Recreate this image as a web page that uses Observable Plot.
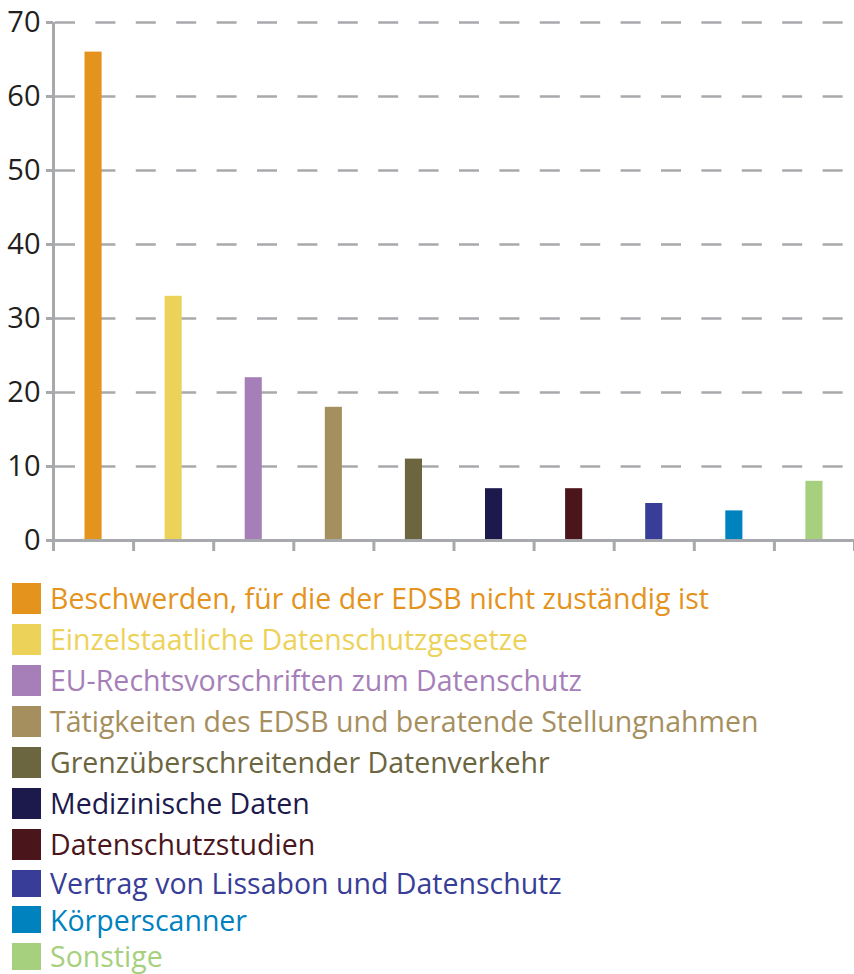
<!DOCTYPE html>
<html>
<head>
<meta charset="utf-8">
<script src="https://cdn.jsdelivr.net/npm/d3@7"></script>
<script src="https://cdn.jsdelivr.net/npm/@observablehq/plot@0.6"></script>
<style>
  html, body { margin: 0; padding: 0; background: #fff; }
  #chart svg { display: block; }
  #legend { margin-top: 18px; padding-left: 12px; font-family: "Open Sans", sans-serif; font-size: 28.5px; }
  .row { display: flex; align-items: center; height: 41px; white-space: nowrap; }
  .row:nth-child(n+8) { height: 36.5px; }
  .sw { width: 29px; height: 31px; margin-right: 9px; flex: none; }
  .row:nth-child(n+8) .sw { height: 27px; }
  .row span { line-height: 1; }
</style>
</head>
<body>
<div id="chart"></div>
<div id="legend"></div>
<script>
const categories = [
  "Beschwerden, für die der EDSB nicht zuständig ist",
  "Einzelstaatliche Datenschutzgesetze",
  "EU-Rechtsvorschriften zum Datenschutz",
  "Tätigkeiten des EDSB und beratende Stellungnahmen",
  "Grenzüberschreitender Datenverkehr",
  "Medizinische Daten",
  "Datenschutzstudien",
  "Vertrag von Lissabon und Datenschutz",
  "Körperscanner",
  "Sonstige"
];
const values = [66, 33, 22, 18, 11, 7, 7, 5, 4, 8];
const colors = ["#e4931d", "#edd25a", "#a67fb9", "#a68f5e", "#6b6540", "#1c1a4d", "#4a161c", "#383d98", "#0082bf", "#a6d07e"];
const yTicks = [0, 10, 20, 30, 40, 50, 60, 70];

const data = categories.map((c, i) => ({category: c, index: i, value: values[i]}));
const gray = "#a7a9ac";
const xBounds = d3.range(0, categories.length + 1);

const plot = Plot.plot({
  width: 854,
  height: 560,
  marginTop: 22,
  marginBottom: 20,
  marginLeft: 53,
  marginRight: 0,
  style: {fontFamily: "Open Sans, sans-serif", background: "#fff"},
  x: {type: "linear", domain: [0, categories.length], axis: null, label: null},
  y: {domain: [0, 70], axis: null, label: null},
  color: {domain: categories, range: colors},
  marks: [
    Plot.ruleY(yTicks.filter(d => d > 0), {stroke: gray, strokeWidth: 2.5, strokeDasharray: "20,20.4", strokeDashoffset: -2, strokeOpacity: 1}),
    Plot.rectY(data, {x1: "index", x2: d => d.index + 1, y: "value", fill: "category", insetLeft: 31.5, insetRight: 31.5}),
    Plot.ruleX([0], {y1: 0, y2: 70, stroke: gray, strokeWidth: 3}),
    Plot.axisY(yTicks, {tickSize: 7, tickFormat: () => "", stroke: gray, strokeWidth: 3, label: null}),
    Plot.axisY(yTicks, {tickSize: 0, tickPadding: 13, fontSize: 29, fill: "#231f20", label: null}),
    Plot.ruleY([0], {stroke: gray, strokeWidth: 3}),
    Plot.axisX(xBounds, {tickSize: 11, tickFormat: () => "", stroke: gray, strokeWidth: 3, label: null})
  ]
});
document.getElementById("chart").appendChild(plot);

const legend = document.getElementById("legend");
categories.forEach((c, i) => {
  const row = document.createElement("div");
  row.className = "row";
  const sw = document.createElement("div");
  sw.className = "sw";
  sw.style.background = colors[i];
  const label = document.createElement("span");
  label.textContent = c;
  label.style.color = colors[i];
  row.appendChild(sw);
  row.appendChild(label);
  legend.appendChild(row);
});
</script>
</body>
</html>
